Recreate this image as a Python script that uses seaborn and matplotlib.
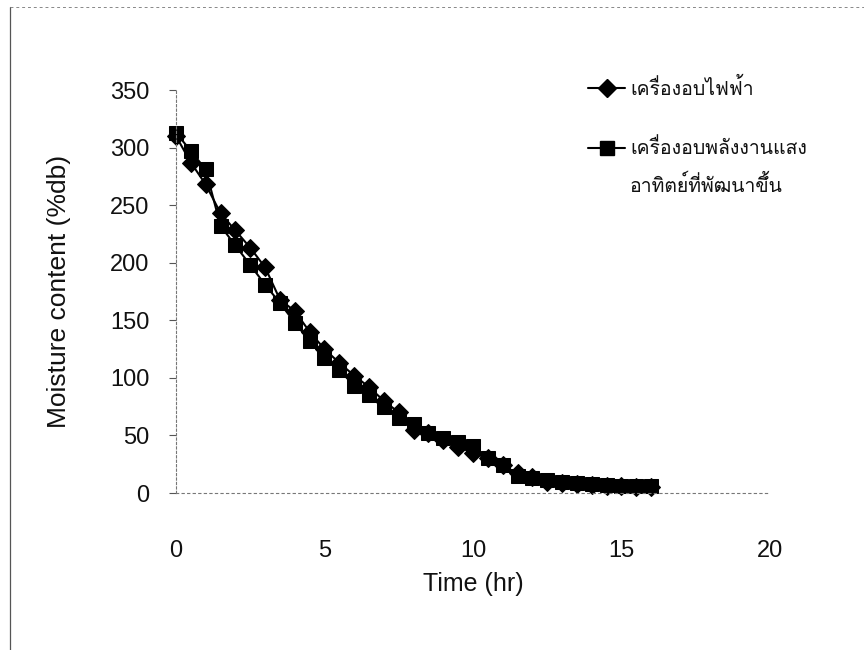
import numpy as np
import pandas as pd
import matplotlib
matplotlib.use("Agg")
import matplotlib.pyplot as plt
import seaborn as sns
from matplotlib import font_manager, ft2font
from matplotlib.lines import Line2D

time_hr = [0, 0.5, 1, 1.5, 2, 2.5, 3, 3.5, 4, 4.5, 5, 5.5, 6, 6.5, 7, 7.5, 8,
           8.5, 9, 9.5, 10, 10.5, 11, 11.5, 12, 12.5, 13, 13.5, 14, 14.5, 15, 15.5, 16]
electric = [310, 287, 268, 243, 228, 213, 196, 168, 158, 140, 125, 113, 102, 92, 80, 70, 55,
            52, 46, 40, 35, 30, 24, 17, 14, 10, 9, 8, 7, 6, 6, 5, 5]
solar = [313, 297, 281, 232, 215, 198, 181, 165, 148, 132, 117, 107, 93, 85, 75, 65, 60,
         52, 48, 44, 41, 30, 24, 15, 13, 11, 10, 9, 8, 7, 6, 6, 6]
label_electric = "เครื่องอบไฟฟ้า"
label_solar_1 = "เครื่องอบพลังงานแสง"
label_solar_2 = "อาทิตย์ที่พัฒนาขึ้น"
x_ticks = [0, 5, 10, 15, 20]
y_ticks = [0, 50, 100, 150, 200, 250, 300, 350]

sns.set_theme(style="white")

# find a font that covers Thai
thai_font = None
for f in font_manager.fontManager.ttflist:
    try:
        cm = ft2font.FT2Font(f.fname).get_charmap()
        if 0x0E01 in cm and 0x0E40 in cm and 0x0E48 in cm:
            thai_font = f.name
            break
    except Exception:
        pass
fams = ["Liberation Sans", "DejaVu Sans"]
if thai_font:
    fams = ["Liberation Sans", thai_font, "DejaVu Sans"]
plt.rcParams["font.family"] = fams

fig = plt.figure(figsize=(8.64, 6.5), dpi=100)
ax = fig.add_axes([0.2037, 0.2415, 0.6875, 0.62])

df_e = pd.DataFrame({"t": time_hr, "m": electric})
df_s = pd.DataFrame({"t": time_hr, "m": solar})
sns.lineplot(data=df_e, x="t", y="m", ax=ax, color="black", lw=1.5, marker="D",
             markersize=9.5, markeredgecolor="black", markerfacecolor="black", clip_on=False)
sns.lineplot(data=df_s, x="t", y="m", ax=ax, color="black", lw=1.5, marker="s",
             markersize=9.5, markeredgecolor="black", markerfacecolor="black", clip_on=False)

ax.set_xlim(0, 20)
ax.set_ylim(0, 350)
ax.set_xticks(x_ticks)
ax.set_yticks(y_ticks)
ax.tick_params(axis="x", labelsize=17, pad=34, length=0, labelcolor="#111111")
ax.tick_params(axis="y", labelsize=17, pad=14, length=5, left=True, color="#555555",
               width=0.8, labelcolor="#111111")
for s in ["top", "right"]:
    ax.spines[s].set_visible(False)
ax.spines["left"].set_color("#777777")
ax.spines["left"].set_linestyle((0, (2, 2)))
ax.spines["left"].set_linewidth(0.8)
ax.spines["bottom"].set_color("#777777")
ax.spines["bottom"].set_linestyle((0, (2, 3)))
ax.spines["bottom"].set_linewidth(0.8)
ax.set_xlabel("Time (hr)", fontsize=18, labelpad=7, color="#111111")
ax.set_ylabel("Moisture content (%db)", fontsize=19, labelpad=28, color="#111111")

# legend (manual, in figure coordinates)
W, H = 864.0, 650.0
def fx(px):
    return px / W
def fy(py):
    return 1 - py / H

for (y0, mk, lab) in [(88, "D", label_electric), (148, "s", label_solar_1)]:
    fig.add_artist(Line2D([fx(588), fx(625)], [fy(y0), fy(y0)], transform=fig.transFigure,
                          color="black", lw=1.5))
    fig.add_artist(Line2D([fx(607)], [fy(y0)], transform=fig.transFigure, color="black",
                          marker=mk, markersize=9.5))
    fig.text(fx(630), fy(y0), lab, fontsize=14, va="center", ha="left", color="#111111")
fig.text(fx(630), fy(185), label_solar_2, fontsize=14, va="center", ha="left", color="#111111")

# scan border lines
fig.add_artist(Line2D([0.012, 0.012], [0.0, 0.99], transform=fig.transFigure,
                      color="#555555", lw=0.9))
fig.add_artist(Line2D([0.012, 1.0], [0.99, 0.99], transform=fig.transFigure,
                      color="#888888", lw=0.7, ls=(0, (3, 3))))

fig.savefig("out.png", dpi=100, facecolor="white")
